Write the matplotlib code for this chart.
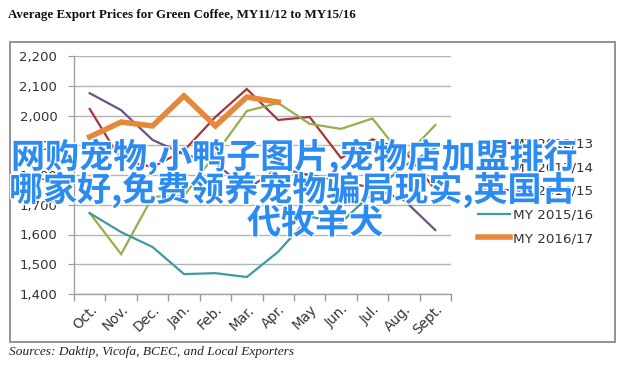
import matplotlib
matplotlib.use("Agg")
import matplotlib.pyplot as plt
import matplotlib.patheffects as pe
from matplotlib.patches import Rectangle

months = ["Oct.", "Nov.", "Dec.", "Jan.", "Feb.", "Mar.", "Apr.", "May", "Jun.", "Jul.", "Aug.", "Sept."]
series_labels = ["MY 2012/13", "MY 2013/14", "MY 2014/15", "MY 2015/16", "MY 2016/17"]
my_2012_13 = [2022, 1850, 1827, 1882, 1995, 2089, 1985, 1995, 1857, 1920, 1884, 1750]
my_2013_14 = [1672, 1534, 1727, 1730, 1870, 2015, 2042, 1972, 1955, 1990, 1857, 1968]
my_2014_15 = [2075, 2018, 1918, 1870, 1840, 1752, 1823, 1800, 1780, 1756, 1716, 1615]
my_2015_16 = [1672, 1608, 1558, 1467, 1470, 1457, 1542, 1660, 1640, 1740, 1830, 1890]
my_2016_17 = [1928, 1978, 1965, 2066, 1965, 2062, 2045]
y_ticks = [1400, 1500, 1600, 1700, 1800, 1900, 2000, 2100, 2200]

title = "Average Export Prices for Green Coffee, MY11/12 to MY15/16"
source = "Sources: Daktip, Vicofa, BCEC, and Local Exporters"
watermark_lines = ["网购宠物,小鸭子图片,宠物店加盟排行",
                   "哪家好,免费领养宠物骗局现实,英国古",
                   "代牧羊犬"]

colors = ["#A8343C", "#93B04E", "#6E5480", "#3E9AA3", "#E5883A"]
widths = [1.6, 1.6, 1.6, 1.6, 4.0]

W, H = 628, 372
fig = plt.figure(figsize=(W / 100, H / 100), dpi=100)
fig.patch.set_facecolor("white")

# outer frame
fig.patches.append(Rectangle((10 / W, 1 - 342 / H), 605 / W, 300 / H,
                             transform=fig.transFigure, fill=False,
                             edgecolor="#8a8a8a", linewidth=1.3))

ax = fig.add_axes([74 / W, 1 - 294 / H, (451 - 74) / W, (294 - 56) / H])
x = list(range(len(months)))
all_series = [my_2012_13, my_2013_14, my_2014_15, my_2015_16, my_2016_17]
for vals, c, lw, lab in zip(all_series, colors, widths, series_labels):
    ax.plot(x[:len(vals)], vals, color=c, linewidth=lw, label=lab,
            solid_joinstyle="miter", zorder=3)

ax.set_xlim(-0.5, len(months) - 0.5)
ax.set_ylim(1400, 2200)
ax.set_yticks(y_ticks)
ax.set_yticklabels([f"{v:,}" for v in y_ticks], fontsize=9.5, color="#333333")
ax.set_xticks(x)
ax.set_xticklabels(months, rotation=45, ha="right", rotation_mode="anchor",
                   fontsize=9.8, color="#333333")
ax.tick_params(axis="x", length=0, pad=6)
ax.set_xticks([i - 0.5 for i in range(len(months) + 1)], minor=True)
ax.tick_params(axis="x", which="minor", length=5, color="#999999", width=1)
ax.tick_params(axis="y", length=4, color="#999999", pad=8)
ax.grid(axis="y", color="#b5b5b5", linewidth=1)
ax.set_axisbelow(True)
for s in ["top", "right"]:
    ax.spines[s].set_visible(False)
for s in ["left", "bottom"]:
    ax.spines[s].set_color("#a0a0a0")
    ax.spines[s].set_linewidth(1)

leg = ax.legend(loc="center left", bbox_to_anchor=(478 / W, 1 - 191.5 / H),
                bbox_transform=fig.transFigure, frameon=False, fontsize=9.7,
                handlelength=2.4, handletextpad=0.2, labelspacing=0.78,
                borderpad=0, borderaxespad=0)
for t in leg.get_texts():
    t.set_color("#333333")

fig.text(8 / W, 1 - 15 / H, title, fontsize=9.4, fontweight="bold",
         family="Liberation Serif", va="center", ha="left", color="#111111")
fig.text(9 / W, 1 - 352 / H, source, fontsize=9.6, style="italic",
         family="Liberation Serif", va="center", ha="left", color="#222222")

wm_pos = [(294, 157), (292, 190), (315, 223)]
for line, (wx, wy) in zip(watermark_lines, wm_pos):
    fig.text(wx / W, 1 - wy / H, line, fontsize=24.5,
             family=["Noto Sans CJK SC", "DejaVu Sans"], fontweight="bold",
             color="#2B8BF0", ha="center", va="center", zorder=10,
             path_effects=[pe.withStroke(linewidth=2, foreground="white")])

fig.savefig("out.png", dpi=100)
